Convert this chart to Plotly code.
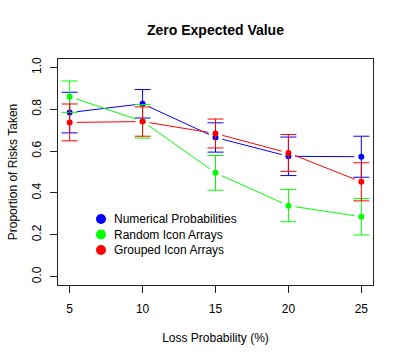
import math
import plotly.graph_objects as go

loss_prob = [5, 10, 15, 20, 25]
series_names = ["Numerical Probabilities", "Random Icon Arrays", "Grouped Icon Arrays"]
numerical = [0.784, 0.826, 0.665, 0.575, 0.573]
numerical_err = [0.097, 0.068, 0.070, 0.092, 0.098]
random_icon = [0.860, 0.742, 0.496, 0.339, 0.286]
random_err = [0.075, 0.080, 0.083, 0.077, 0.087]
grouped_icon = [0.737, 0.741, 0.684, 0.591, 0.453]
grouped_err = [0.088, 0.070, 0.069, 0.088, 0.091]
colors = ["#0000FF", "#00FF00", "#FF0000"]
y_ticks = [0.0, 0.2, 0.4, 0.6, 0.8, 1.0]

FONT = "Liberation Sans, Arial, Helvetica, sans-serif"

W, H = 404, 359
ML, MR, MT, MB = 58, 31, 59, 74
PW, PH = W - ML - MR, H - MT - MB
XR = [4.2, 25.8]
YR = [-0.04, 1.04]
sx = PW / (XR[1] - XR[0])   # px per x unit
sy = PH / (YR[1] - YR[0])   # px per y unit
GAP = 7                      # px gap around points (R type="b")


def gapped(xs, ys):
    gx, gy = [], []
    for i in range(len(xs) - 1):
        dx = (xs[i + 1] - xs[i]) * sx
        dy = (ys[i + 1] - ys[i]) * sy
        L = math.hypot(dx, dy)
        if L <= 2 * GAP:
            continue
        f = GAP / L
        gx += [xs[i] + (xs[i + 1] - xs[i]) * f, xs[i + 1] - (xs[i + 1] - xs[i]) * f, None]
        gy += [ys[i] + (ys[i + 1] - ys[i]) * f, ys[i + 1] - (ys[i + 1] - ys[i]) * f, None]
    return gx, gy


fig = go.Figure()
for name, vals, errs, col in zip(series_names,
                                 [numerical, random_icon, grouped_icon],
                                 [numerical_err, random_err, grouped_err],
                                 colors):
    lx, ly = gapped(loss_prob, vals)
    fig.add_trace(go.Scatter(
        x=lx, y=ly, mode="lines", line=dict(color=col, width=1),
        showlegend=False, hoverinfo="skip", connectgaps=False))
    fig.add_trace(go.Scatter(
        x=loss_prob, y=vals, mode="markers", name=name,
        marker=dict(color=col, size=6, line=dict(width=0)),
        error_y=dict(type="data", array=errs, visible=True, color=col,
                     thickness=1, width=8),
        showlegend=False, cliponaxis=False))

# legend (R style: filled circles + text)
legend_y_px = [219, 234.5, 250]
annotations = []
shapes = []
for name, col, ypx in zip(series_names, colors, legend_y_px):
    yp = (MT + PH - ypx) / PH
    shapes.append(dict(type="circle", xref="paper", yref="paper",
                       xsizemode="pixel", ysizemode="pixel",
                       xanchor=(101 - ML) / PW, yanchor=yp,
                       x0=-5, x1=5, y0=-5, y1=5,
                       fillcolor=col, line=dict(width=0)))
    annotations.append(dict(text=name, xref="paper", yref="paper",
                            x=(112 - ML) / PW, y=yp, xanchor="left",
                            yanchor="middle", showarrow=False,
                            font=dict(size=12, family=FONT, color="black")))

fig.update_layout(
    width=W, height=H,
    margin=dict(l=ML, r=MR, t=MT, b=MB),
    paper_bgcolor="white", plot_bgcolor="white",
    font=dict(family=FONT, size=12, color="black"),
    showlegend=False,
    title=dict(text="<b>Zero Expected Value</b>", x=(ML + W - MR) / 2 / W,
               xanchor="center", y=1 - 30 / H, yanchor="middle",
               font=dict(size=14, family=FONT, color="black")),
    shapes=shapes,
    annotations=annotations,
    xaxis=dict(range=XR, tickvals=loss_prob,
               ticktext=[str(v) for v in loss_prob], automargin=False,
               showgrid=False, zeroline=False, showline=True, mirror=True,
               linecolor="#222", linewidth=1, ticks="outside", ticklen=7,
               tickcolor="#222", tickfont=dict(size=12),
               ticklabelstandoff=6,
               title=dict(text="Loss Probability (%)", standoff=18,
                          font=dict(size=12))),
    yaxis=dict(range=YR, tickvals=y_ticks,
               ticktext=[f"{v:.1f}" for v in y_ticks], automargin=False,
               tickangle=-90,
               showgrid=False, zeroline=False, showline=True, mirror=True,
               linecolor="#222", linewidth=1, ticks="outside", ticklen=7,
               tickcolor="#222", tickfont=dict(size=12),
               ticklabelstandoff=4,
               title=dict(text="Proportion of Risks Taken", standoff=10,
                          font=dict(size=12))),
)

fig.write_html("out.html",
               config={"displayModeBar": False},
               post_script="document.body.style.margin='0px';")
